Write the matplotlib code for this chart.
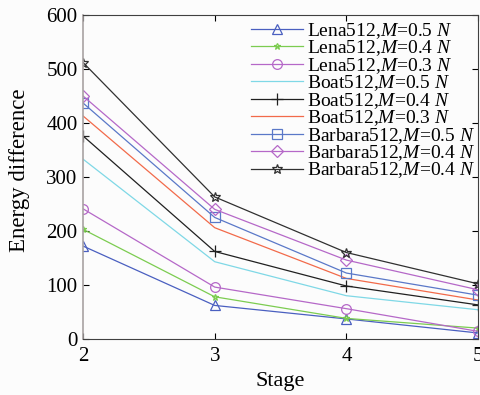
import matplotlib
matplotlib.use('Agg')
import matplotlib.pyplot as plt

plt.rcParams['font.family'] = 'Liberation Serif'
plt.rcParams['mathtext.fontset'] = 'custom'
plt.rcParams['mathtext.rm'] = 'Liberation Serif'
plt.rcParams['mathtext.it'] = 'Liberation Serif:italic'

stages = [2, 3, 4, 5]

lena_05 = [172, 62, 37, 11]
lena_04 = [203, 78, 38, 20]
lena_03 = [241, 96, 56, 14]
boat_05 = [333, 143, 80, 54]
boat_04 = [376, 162, 98, 63]
boat_03 = [413, 206, 112, 72]
barbara_05 = [437, 225, 122, 81]
barbara_04 = [450, 240, 146, 91]
barbara_04b = [512, 263, 160, 102]

labels = ['Lena512,$M$=0.5 $N$', 'Lena512,$M$=0.4 $N$', 'Lena512,$M$=0.3 $N$',
          'Boat512,$M$=0.5 $N$', 'Boat512,$M$=0.4 $N$', 'Boat512,$M$=0.3 $N$',
          'Barbara512,$M$=0.5 $N$', 'Barbara512,$M$=0.4 $N$', 'Barbara512,$M$=0.4 $N$']

series = [lena_05, lena_04, lena_03, boat_05, boat_04, boat_03,
          barbara_05, barbara_04, barbara_04b]
colors = ['#4a5fc0', '#7ccc50', '#b568c8', '#7fd8e6', '#202020', '#f26a4a',
          '#5a78c8', '#b568c8', '#303030']
markers = ['^', '*', 'o', None, '+', None, 's', 'D', '*']
msizes = [7, 5, 7, 0, 8, 0, 7, 6, 7]

fig = plt.figure(figsize=(4.8, 3.95), dpi=100)
fig.patch.set_facecolor('#fcfcfc')
ax = fig.add_axes([0.173, 0.142, 0.823, 0.820])
ax.set_facecolor('#fcfcfc')

for ys, lab, c, m, ms in zip(series, labels, colors, markers, msizes):
    ax.plot(stages, ys, color=c, marker=m, markersize=ms, markerfacecolor='none',
            markeredgewidth=0.9, linewidth=0.9, label=lab)

ax.set_xlim(2, 5)
ax.set_ylim(0, 600)
ax.set_xticks([2, 3, 4, 5])
ax.set_yticks([0, 100, 200, 300, 400, 500, 600])
ax.tick_params(direction='in', top=True, right=True, labelsize=15, length=4)
ax.tick_params(axis='x', pad=6)
ax.tick_params(axis='y', pad=4)
ax.spines['left'].set_color('#a8a2a2')
ax.spines['left'].set_linewidth(1.2)
for s in ['bottom', 'top', 'right']:
    ax.spines[s].set_color('#404040')
ax.set_xlabel('Stage', fontsize=16, labelpad=4)
ax.set_ylabel('Energy difference', fontsize=16.5)
ax.yaxis.set_label_coords(-0.135, 0.52)

ax.legend(loc='upper left', bbox_to_anchor=(0.415, 0.994), frameon=False,
          fontsize=14, labelspacing=-0.12, handlelength=2.7, handletextpad=0.2,
          borderpad=0.2, borderaxespad=0.0)

plt.savefig('out.png', dpi=100, facecolor=fig.get_facecolor())
